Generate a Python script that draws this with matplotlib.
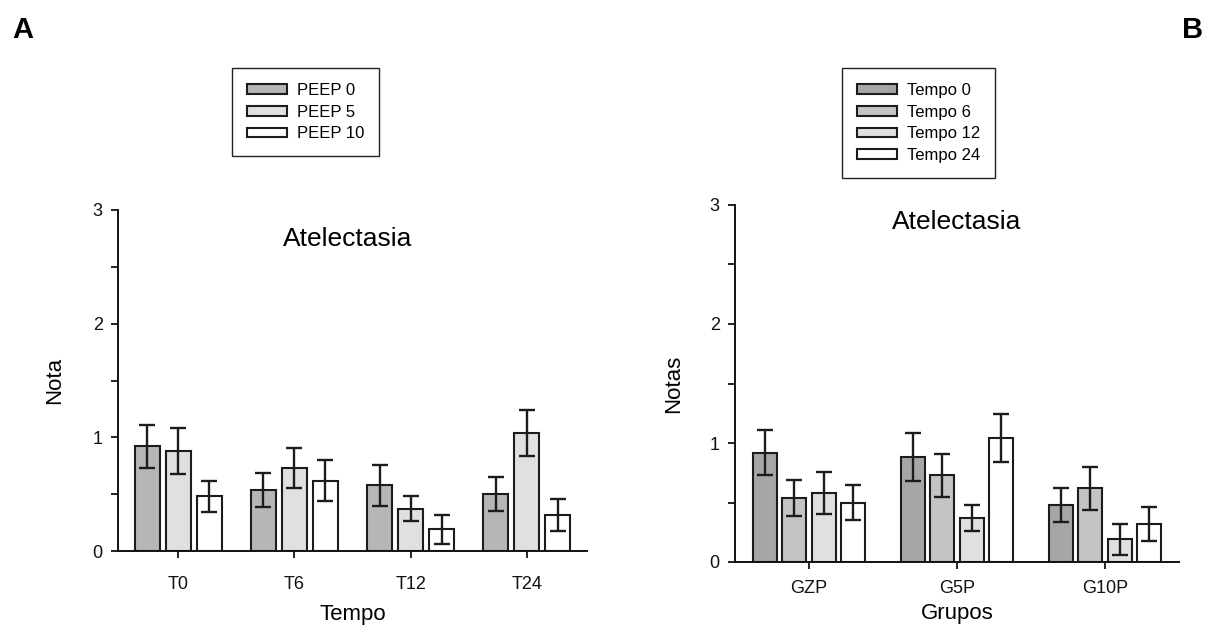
import matplotlib
matplotlib.use("Agg")
import matplotlib.pyplot as plt
import numpy as np
from matplotlib.ticker import MultipleLocator

plt.rcParams['font.family'] = ['Liberation Sans', 'DejaVu Sans']

# Atelectasis scores (mean and standard error) per PEEP group and time point
times = ["T0", "T6", "T12", "T24"]
peep_labels = ["PEEP 0", "PEEP 5", "PEEP 10"]
peep0_mean = [0.92, 0.54, 0.58, 0.50]
peep5_mean = [0.88, 0.73, 0.37, 1.04]
peep10_mean = [0.48, 0.62, 0.19, 0.32]
peep0_err = [0.19, 0.15, 0.18, 0.15]
peep5_err = [0.20, 0.18, 0.11, 0.20]
peep10_err = [0.14, 0.18, 0.13, 0.14]

groups = ["GZP", "G5P", "G10P"]
tempo_labels = ["Tempo 0", "Tempo 6", "Tempo 12", "Tempo 24"]

left_colors = ["#b6b6b6", "#e0e0e0", "#ffffff"]
right_colors = ["#a6a6a6", "#c4c4c4", "#e0e0e0", "#ffffff"]
edge = "#1c1c1c"

fig = plt.figure(figsize=(12.15, 6.33), dpi=100)

W, H = 1215, 633
axA = fig.add_axes([118 / W, 1 - 551 / H, (587 - 118) / W, (551 - 210) / H])
axB = fig.add_axes([735 / W, 1 - 562 / H, (1179 - 735) / W, (562 - 205) / H])


def style(ax, xlim, xpad):
    ax.set_ylim(0, 3)
    ax.set_xlim(*xlim)
    for s in ("top", "right"):
        ax.spines[s].set_visible(False)
    for s in ("left", "bottom"):
        ax.spines[s].set_linewidth(1.4)
        ax.spines[s].set_color("#111111")
    ax.yaxis.set_major_locator(MultipleLocator(1))
    ax.yaxis.set_minor_locator(MultipleLocator(0.5))
    ax.tick_params(axis="y", which="both", direction="out", length=5, width=1.3,
                   labelsize=13, pad=6, colors="#111111")
    ax.tick_params(axis="x", direction="out", length=5, width=1.3,
                   labelsize=13, pad=xpad, colors="#111111")


# Panel A: grouped by time point
means_A = np.array([peep0_mean, peep5_mean, peep10_mean])
errs_A = np.array([peep0_err, peep5_err, peep10_err])
x = np.arange(len(times))
offsA = [-0.267, 0.0, 0.267]
handlesA = []
for i in range(3):
    b = axA.bar(x + offsA[i], means_A[i], width=0.215, color=left_colors[i],
                edgecolor=edge, linewidth=1.5, label=peep_labels[i], zorder=2)
    axA.errorbar(x + offsA[i], means_A[i], yerr=errs_A[i], fmt="none",
                 ecolor=edge, elinewidth=1.7, capsize=5.5, capthick=1.7, zorder=3)
    handlesA.append(b)
style(axA, (-0.517, 3.517), 13)
axA.set_xticks(x)
axA.set_xticklabels(times)
axA.set_xlabel("Tempo", fontsize=16, labelpad=8)
axA.set_ylabel("Nota", fontsize=16, labelpad=20)
axA.text(0.49, 0.915, "Atelectasia", transform=axA.transAxes, ha="center",
         va="center", fontsize=19)

# Panel B: same scores grouped by PEEP group, one bar per time point
means_B = means_A.T
errs_B = errs_A.T
xg = np.arange(len(groups))
offsB = [-0.3, -0.1, 0.1, 0.3]
handlesB = []
for j in range(4):
    b = axB.bar(xg + offsB[j], means_B[j], width=0.162, color=right_colors[j],
                edgecolor=edge, linewidth=1.5, label=tempo_labels[j], zorder=2)
    axB.errorbar(xg + offsB[j], means_B[j], yerr=errs_B[j], fmt="none",
                 ecolor=edge, elinewidth=1.7, capsize=6, capthick=1.7, zorder=3)
    handlesB.append(b)
style(axB, (-0.5, 2.5), 8)
axB.set_xticks(xg)
axB.set_xticklabels(groups)
axB.set_xlabel("Grupos", fontsize=16, labelpad=4)
axB.set_ylabel("Notas", fontsize=16, labelpad=18)
axB.text(0.5, 0.953, "Atelectasia", transform=axB.transAxes, ha="center",
         va="center", fontsize=19)

for handles, labels, anchor in (
        (handlesA, peep_labels, (232 / W, 1 - 68 / H)),
        (handlesB, tempo_labels, (842 / W, 1 - 68 / H))):
    leg = fig.legend(handles, labels, loc="upper left", bbox_to_anchor=anchor,
                     bbox_transform=fig.transFigure, borderaxespad=0,
                     fontsize=12, fancybox=False, framealpha=1,
                     edgecolor="#222222", handlelength=2.4, handleheight=0.5,
                     labelspacing=0.4, handletextpad=0.6, borderpad=0.9)
    leg.get_frame().set_linewidth(1.0)

fig.text(23 / W, 1 - 30 / H, "A", fontsize=21, fontweight="bold",
         ha="center", va="center")
fig.text(1193 / W, 1 - 30 / H, "B", fontsize=21, fontweight="bold",
         ha="center", va="center")

fig.savefig("out.png", dpi=100)
